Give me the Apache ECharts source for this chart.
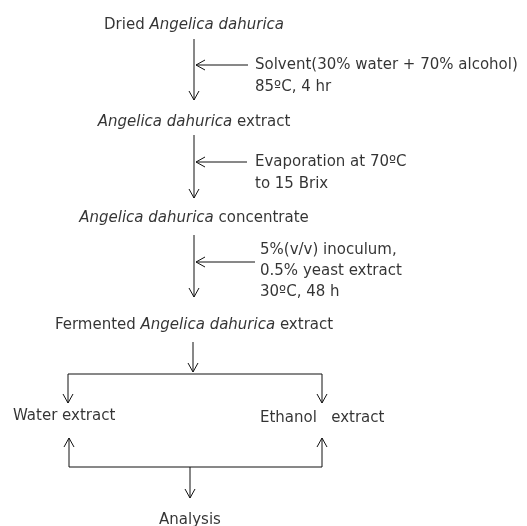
<!DOCTYPE html>
<html>
<head>
<meta charset="utf-8">
<script src="https://cdn.jsdelivr.net/npm/echarts@6/dist/echarts.min.js"></script>
<style>
  html, body { margin: 0; padding: 0; background: #fff; }
  #chart { width: 527px; height: 526px; }
</style>
</head>
<body>
<div id="chart"></div>
<script>
// ==================== FLOW CONTENT ====================
const stageLabels = [
  'Dried {i|Angelica dahurica}',
  '{i|Angelica dahurica} extract',
  '{i|Angelica dahurica} concentrate',
  'Fermented {i|Angelica dahurica} extract'
];
const stageY = [25, 122, 218, 325];
const stemX = 194;

const conditionLines = [
  ['Solvent(30% water + 70% alcohol)', '85\u00baC, 4 hr'],
  ['Evaporation at 70\u00baC', 'to 15 Brix'],
  ['5%(v/v) inoculum,', '0.5% yeast extract', '30\u00baC, 48 h']
];
const conditionX = [255, 255, 260];
const conditionY = [[65, 87], [162, 184], [250, 271, 292]];

const branchLabels = ['Water extract', 'Ethanol   extract'];
const branchX = [13, 260];
const branchY = [416, 418];
const finalLabel = 'Analysis';
const finalPos = [190, 520];

// arrows: [x1, y1, x2, y2, head]  (head drawn at x2,y2)
const arrows = [
  [194, 39, 194, 100, 1], [248, 65, 196, 65, 1],
  [194, 135, 194, 198, 1], [247, 162, 196, 162, 1],
  [194, 235, 194, 297, 1], [255, 262, 196, 262, 1],
  [193, 342, 193, 372, 1],
  [68, 374, 322, 374, 0], [68, 374, 68, 403, 1], [322, 374, 322, 403, 1],
  [69, 467, 69, 438, 1], [322, 467, 322, 438, 1], [69, 467, 322, 467, 0],
  [190, 467, 190, 498, 1]
];

// ==================== TEXT POINTS ====================
const centerPts = stageLabels.map((t, i) => ({ value: [stemX, stageY[i]], txt: t }));
centerPts.push({ value: finalPos, txt: finalLabel });
const leftPts = [];
conditionLines.forEach((lines, i) => lines.forEach((t, j) => leftPts.push({ value: [conditionX[i], conditionY[i][j]], txt: t })));
branchLabels.forEach((t, i) => leftPts.push({ value: [branchX[i], branchY[i]], txt: t }));

const FONT = 'DejaVu Sans';
const rich = { i: { fontStyle: 'italic', fontFamily: FONT, fontSize: 15, color: '#000' } };
const lineC = '#111';

const chart = echarts.init(document.getElementById('chart'), null, { renderer: 'canvas' });
chart.setOption({
  backgroundColor: '#fff',
  animation: false,
  grid: { left: 0, right: 0, top: 0, bottom: 0 },
  xAxis: { type: 'value', min: 0, max: 527, show: false },
  yAxis: { type: 'value', min: 0, max: 526, inverse: true, show: false },
  series: [
    {
      type: 'custom',
      data: arrows,
      renderItem: (params, api) => {
        const a = api.coord([api.value(0), api.value(1)]);
        const b = api.coord([api.value(2), api.value(3)]);
        const children = [{
          type: 'line',
          shape: { x1: a[0], y1: a[1], x2: b[0], y2: b[1] },
          style: { stroke: lineC, lineWidth: 1 }
        }];
        if (api.value(4)) {
          const dx = b[0] - a[0], dy = b[1] - a[1];
          const len = Math.sqrt(dx * dx + dy * dy) || 1;
          const ux = dx / len, uy = dy / len;
          const hl = 9, hw = 5;
          children.push({
            type: 'polyline',
            shape: { points: [
              [b[0] - ux * hl - uy * hw, b[1] - uy * hl + ux * hw],
              [b[0], b[1]],
              [b[0] - ux * hl + uy * hw, b[1] - uy * hl - ux * hw]
            ] },
            style: { stroke: lineC, lineWidth: 1, fill: null }
          });
        }
        return { type: 'group', children };
      }
    },
    {
      type: 'scatter',
      symbolSize: 0,
      data: centerPts,
      label: {
        show: true, position: [0, 0], align: 'center', verticalAlign: 'middle',
        fontFamily: FONT, fontSize: 15, color: '#000', rich,
        formatter: p => p.data.txt
      }
    },
    {
      type: 'scatter',
      symbolSize: 0,
      data: leftPts,
      label: {
        show: true, position: [0, 0], align: 'left', verticalAlign: 'middle',
        fontFamily: FONT, fontSize: 15, color: '#000', rich,
        formatter: p => p.data.txt
      }
    }
  ]
});
</script>
</body>
</html>
